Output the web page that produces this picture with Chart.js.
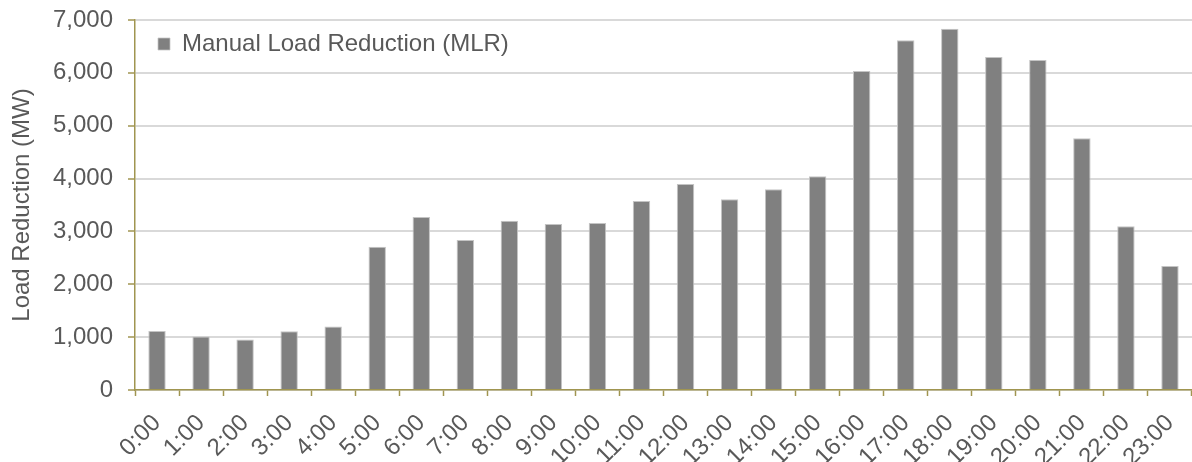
<!DOCTYPE html>
<html>
<head>
<meta charset="utf-8">
<script src="https://cdn.jsdelivr.net/npm/chart.js@4"></script>
<style>
  html, body { margin: 0; padding: 0; background: #fff; }
  #wrap { width: 1192px; height: 462px; }
</style>
</head>
<body>
<div id="wrap"><canvas id="graph1"></canvas></div>
<script>
const hours = ['0:00','1:00','2:00','3:00','4:00','5:00','6:00','7:00','8:00','9:00','10:00','11:00',
               '12:00','13:00','14:00','15:00','16:00','17:00','18:00','19:00','20:00','21:00','22:00','23:00'];
const mlr = [1115, 1010, 955, 1110, 1200, 2710, 3275, 2840, 3200, 3140, 3160, 3575,
             3895, 3610, 3800, 4045, 6035, 6615, 6835, 6300, 6245, 4765, 3100, 2345];
const yTicks = [0, 1000, 2000, 3000, 4000, 5000, 6000, 7000];

const axisColor = '#a09550';
const textColor = '#595959';
const font = { family: 'Liberation Sans, Arial, sans-serif', size: 24 };

// nudge the legend into the top-left corner of the plot like the original
const legendNudge = {
    id: 'legendNudge',
    afterLayout(chart) {
        chart.legend.left += 9;
        chart.legend.top += 18;
    }
};

const config = {
    type: 'bar',
    data: {
        labels: hours,
        datasets: [
            {
                label: 'Manual Load Reduction (MLR)',
                data: mlr,
                backgroundColor: '#808080',
                borderColor: '#c4c4c4',
                borderWidth: { top: 1, left: 1, right: 1, bottom: 0 },
                barPercentage: 0.79,
                categoryPercentage: 0.5,
            }
        ]
    },
    options: {
        responsive: false,
        animation: false,
        layout: { padding: { top: 20, right: 0, left: 0, bottom: 0 } },
        scales: {
            y: {
                min: 0,
                max: 7000,
                afterBuildTicks: function(scale) {
                    scale.ticks = yTicks.map(v => ({ value: v }));
                },
                afterFit: function(scale) {
                    scale.width = 135;
                    scale.paddingTop = 0;
                    scale.paddingBottom = 0;
                },
                title: {
                    display: true,
                    text: 'Load Reduction (MW)',
                    color: textColor,
                    font: font,
                    padding: { top: 8, bottom: 0 },
                },
                ticks: {
                    color: textColor,
                    font: font,
                    padding: 15,
                    callback: v => v.toLocaleString('en-US'),
                },
                grid: {
                    color: '#d9d9d9',
                    lineWidth: 2,
                    tickColor: axisColor,
                    tickLength: 7,
                    tickWidth: 1.5,
                },
                border: { color: axisColor, width: 1.5 },
            },
            x: {
                afterFit: function(scale) {
                    scale.height = 72;
                    scale.paddingLeft = 0;
                    scale.paddingRight = 0;
                },
                ticks: {
                    color: textColor,
                    font: font,
                    minRotation: 45,
                    maxRotation: 45,
                    autoSkip: false,
                    padding: 13,
                },
                grid: {
                    offset: true,
                    drawOnChartArea: false,
                    tickColor: axisColor,
                    tickLength: 6,
                    tickWidth: 1.5,
                },
                border: { color: axisColor, width: 1.5 },
            }
        },
        plugins: {
            legend: {
                position: 'chartArea',
                align: 'start',
                labels: {
                    color: textColor,
                    font: font,
                    boxWidth: 12,
                    boxHeight: 12,
                    padding: 14,
                }
            },
            tooltip: { enabled: false },
        },
    },
    plugins: [legendNudge]
};

const canvas = document.getElementById('graph1');
canvas.width = 1192;
canvas.height = 462;
const myChart = new Chart(canvas, config);
</script>
</body>
</html>
